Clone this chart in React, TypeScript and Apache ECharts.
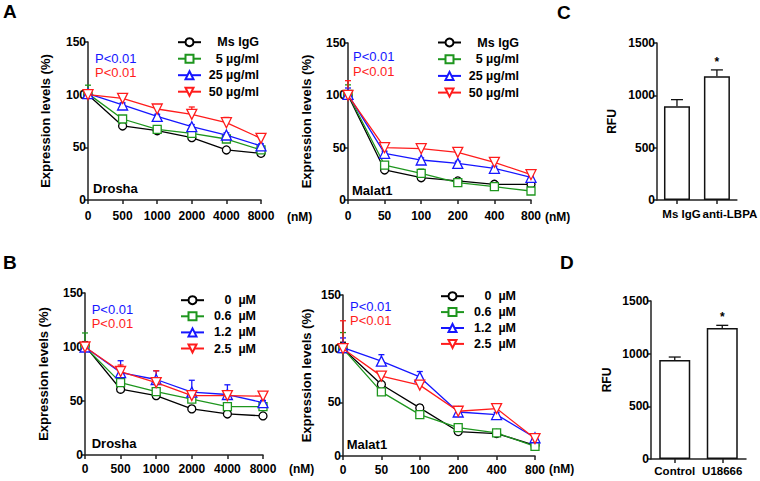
import React, { useEffect, useRef } from 'react';
import * as echarts from 'echarts';

const FONT = '"Liberation Sans", Arial, Helvetica, sans-serif';

// ---------- data ----------
const droshaDoses = ['0', '500', '1000', '2000', '4000', '8000'];
const malat1Doses = ['0', '50', '100', '200', '400', '800'];
const antibodyGroups = ['Ms IgG', '5 µg/ml', '25 µg/ml', '50 µg/ml'];
const inhibitorGroups = ['0\u00a0\u00a0µM', '0.6\u00a0\u00a0µM', '1.2\u00a0\u00a0µM', '2.5\u00a0\u00a0µM'];

// Panel A, Drosha (rows follow antibodyGroups)
const aDroshaMean = [
  [100, 70.3, 65.8, 59.2, 47.5, 44.3],
  [101, 76.9, 67.1, 63.3, 57.9, 47.5],
  [101, 90.2, 79.4, 69.6, 61.7, 51.3],
  [100, 96.5, 86.4, 81.3, 73.4, 58.5],
];
const aDroshaErr = [
  [3, 2, 4, 2, 2, 2],
  [8, 2, 2, 2, 2, 2],
  [3, 2, 2, 2, 2, 2],
  [2, 2, 2, 7, 5, 2],
];
// Panel A, Malat1
const aMalat1Mean = [
  [100, 28.7, 21.3, 18.2, 15, 15],
  [101, 33.4, 25.5, 16.6, 12.7, 8.6],
  [101, 44.6, 38.2, 35, 30.3, 21.7],
  [100, 50, 49, 45.5, 36, 24.2],
];
const aMalat1Err = [
  [3, 1, 2, 1, 1, 1],
  [9, 2, 4, 1, 1, 1],
  [6, 2, 2, 2, 2, 2],
  [14, 2, 2, 2, 2, 2],
];
// Panel B, Drosha (rows follow inhibitorGroups)
const bDroshaMean = [
  [101, 60.9, 55, 42.7, 38, 36.2],
  [100, 67, 58.7, 51.7, 44.8, 44.8],
  [100, 76.3, 69.9, 58.2, 56, 48.5],
  [100, 77.3, 67, 55, 55, 54.5],
];
const bDroshaErr = [
  [4, 2, 4, 2, 2, 2],
  [13, 3, 3, 3, 3, 2],
  [3, 11, 8, 11, 9, 2],
  [2, 6, 11, 3, 3, 2],
];
// Panel B, Malat1
const bMalat1Mean = [
  [100, 66.6, 44.8, 22.8, 20.9, 10],
  [100, 59.7, 38.6, 26.5, 21.5, 9],
  [101, 88.4, 73.7, 41, 38.6, 17],
  [100, 74.4, 66, 41.7, 44.2, 16.2],
];
const bMalat1Err = [
  [6, 2, 3, 1, 1, 1],
  [15, 2, 2, 1, 1, 1],
  [9, 6, 5, 2, 2, 2],
  [26, 2, 2, 3, 2, 2],
];
// Panel C
const cGroups = ['Ms IgG', 'anti-LBPA'];
const cMean = [895, 1182];
const cErr = [64, 61];
const cMarks = ['', '*'];
// Panel D
const dGroups = ['Control', 'U18666'];
const dMean = [940, 1244];
const dErr = [28, 25];
const dMarks = ['', '*'];

// ---------- styles ----------
const groupColors = ['#000000', '#1e961e', '#1616ff', '#ff1c1c'];
const groupSymbols = ['circle', 'rect', 'triangle', 'triangle'];
const groupRotate = [0, 0, 0, 180];
const AX = '#222222';

const grids = [
  { left: 88, top: 42, width: 173, height: 158 }, // A Drosha
  { left: 348, top: 43, width: 183, height: 157 }, // A Malat1
  { left: 657, top: 43, width: 81, height: 157 }, // C
  { left: 85, top: 293, width: 178, height: 162 }, // B Drosha
  { left: 343, top: 295, width: 192, height: 161 }, // B Malat1
  { left: 651, top: 301, width: 95, height: 158 }, // D
];

function errorSeries(gi: number, data: any[][], color: string, cap: number, z: number) {
  return {
    type: 'custom',
    xAxisIndex: gi,
    yAxisIndex: gi,
    z,
    silent: true,
    data,
    renderItem: (params: any, api: any) => {
      const x = api.value(0);
      const y = api.value(1);
      const e = api.value(2);
      const p0 = api.coord([x, y]);
      const p1 = api.coord([x, y + e]);
      const children: any[] = [];
      if (e > 0) {
        children.push({ type: 'line', shape: { x1: p0[0], y1: p0[1], x2: p1[0], y2: p1[1] }, style: { stroke: color, lineWidth: 1.3 } });
        children.push({ type: 'line', shape: { x1: p1[0] - cap, y1: p1[1], x2: p1[0] + cap, y2: p1[1] }, style: { stroke: color, lineWidth: 1.3 } });
      }
      const mark = data[params.dataIndex][3];
      if (mark) {
        children.push({ type: 'text', x: p1[0], y: p1[1] - 8, style: { text: String(mark), fill: '#000', font: `bold 12px ${FONT}`, align: 'center', verticalAlign: 'middle' } });
      }
      return { type: 'group', children };
    },
  };
}

function linePanel(gi: number, names: string[], means: number[][], errs: number[][]) {
  const out: any[] = [];
  means.forEach((row, k) => {
    out.push(errorSeries(gi, row.map((v, i) => [i, v, errs[k][i]]), groupColors[k], 3, 2));
  });
  means.forEach((row, k) => {
    out.push({
      type: 'line',
      name: names[k],
      xAxisIndex: gi,
      yAxisIndex: gi,
      data: row,
      z: 3 + k,
      symbol: groupSymbols[k],
      symbolRotate: groupRotate[k],
      symbolSize: k >= 2 ? 10 : 8,
      showAllSymbol: true,
      lineStyle: { color: groupColors[k], width: 1.3 },
      itemStyle: { color: '#ffffff', borderColor: groupColors[k], borderWidth: 1.3 },
    });
  });
  return out;
}

function barPanel(gi: number, means: number[], errs: number[], marks: string[], barWidth: number) {
  return [
    {
      type: 'bar',
      xAxisIndex: gi,
      yAxisIndex: gi,
      data: means,
      barWidth,
      z: 2,
      itemStyle: { color: '#ffffff', borderColor: '#111', borderWidth: 1.5 },
    },
    errorSeries(gi, means.map((v, i) => [i, v, errs[i], marks[i]]), '#111', 6, 3),
  ];
}

const labelStyle = { fontFamily: FONT, fontWeight: 'bold' as const, fontSize: 12, color: '#000' };

function catAxis(gi: number, data: any[], boundaryGap: boolean, margin: number, fontSize = 12) {
  return {
    gridIndex: gi,
    type: 'category',
    data,
    boundaryGap,
    axisLine: { lineStyle: { color: AX, width: 1.5 } },
    axisTick: { show: true, alignWithLabel: true, length: 4, lineStyle: { color: AX, width: 1.5 } },
    axisLabel: { ...labelStyle, fontSize, margin, interval: 0 },
    splitLine: { show: false },
  };
}

function valAxis(gi: number, max: number, interval: number, name: string, nameGap: number, nameSize = 13) {
  return {
    gridIndex: gi,
    type: 'value',
    min: 0,
    max,
    interval,
    axisLine: { show: true, lineStyle: { color: AX, width: 1.5 } },
    axisTick: { show: true, length: 4, lineStyle: { color: AX, width: 1.5 } },
    axisLabel: { ...labelStyle, margin: 2, formatter: (v: number) => String(v) },
    splitLine: { show: false },
    name,
    nameLocation: 'middle',
    nameGap,
    nameTextStyle: { fontFamily: FONT, fontWeight: 'bold', fontSize: nameSize, color: '#000' },
  };
}

function legend(left: number, top: number, gap: number, names: string[], textW: number) {
  return {
    left,
    top,
    orient: 'vertical',
    padding: 0,
    itemWidth: 23,
    itemHeight: 10,
    itemGap: gap,
    selectedMode: false,
    data: names,
    formatter: (n: string) => `{t|${n}}`,
    textStyle: {
      rich: {
        t: { width: textW, align: 'right', fontFamily: FONT, fontWeight: 'bold', fontSize: 12.5, lineHeight: 14, color: '#000' },
      },
    },
  };
}

function txt(text: string, x: number, y: number, fill: string, font: string, align = 'left') {
  return { type: 'text', x, y, silent: true, style: { text, fill, font, align, verticalAlign: 'middle' } };
}

export default function App() {
  const ref = useRef<HTMLDivElement>(null);
  useEffect(() => {
    if (!ref.current) return;
    const chart = echarts.init(ref.current, undefined, { renderer: 'svg' });
    const bold13 = `bold 13px ${FONT}`;
    const p13 = `13px ${FONT}`;
    const letter = `bold 19px ${FONT}`;
    const blue = '#1616ff';
    const red = '#ff1c1c';
    const cAxisData = [
      { value: cGroups[0], textStyle: { padding: [0, 0, 0, 9] } },
      { value: cGroups[1], textStyle: { padding: [0, 0, 0, 26] } },
    ];
    chart.setOption({
      animation: false,
      backgroundColor: '#ffffff',
      grid: grids.map((g) => ({ ...g, containLabel: false })),
      xAxis: [
        catAxis(0, droshaDoses, false, 10),
        catAxis(1, malat1Doses, false, 10),
        catAxis(2, cAxisData, true, 8, 11.5),
        catAxis(3, droshaDoses, false, 8),
        catAxis(4, malat1Doses, false, 8),
        catAxis(5, dGroups, true, 6, 11.5),
      ],
      yAxis: [
        valAxis(0, 150, 50, 'Expression levels (%)', 36),
        valAxis(1, 150, 50, 'Expression levels (%)', 35),
        valAxis(2, 1500, 500, 'RFU', 39, 12),
        valAxis(3, 150, 50, 'Expression levels (%)', 35),
        valAxis(4, 150, 50, 'Expression levels (%)', 30),
        valAxis(5, 1500, 500, 'RFU', 38, 12),
      ],
      legend: [
        legend(177, 35.7, 3.5, antibodyGroups, 53),
        legend(437, 36, 3.7, antibodyGroups, 53),
        legend(180, 293.7, 3.1, inhibitorGroups, 47),
        legend(440, 289.7, 2.9, inhibitorGroups, 47),
      ],
      series: [
        ...linePanel(0, antibodyGroups, aDroshaMean, aDroshaErr),
        ...linePanel(1, antibodyGroups, aMalat1Mean, aMalat1Err),
        ...barPanel(2, cMean, cErr, cMarks, 26),
        ...linePanel(3, inhibitorGroups, bDroshaMean, bDroshaErr),
        ...linePanel(4, inhibitorGroups, bMalat1Mean, bMalat1Err),
        ...barPanel(5, dMean, dErr, dMarks, 31),
      ],
      graphic: [
        txt('A', 3, 11, '#000', letter),
        txt('B', 3, 262, '#000', letter),
        txt('C', 557, 12, '#000', letter),
        txt('D', 560, 262, '#000', letter),
        txt('P<0.01', 95, 58, blue, p13),
        txt('P<0.01', 95, 72.7, red, p13),
        txt('P<0.01', 353, 56.7, blue, p13),
        txt('P<0.01', 353, 71, red, p13),
        txt('P<0.01', 91.7, 309, blue, p13),
        txt('P<0.01', 91.7, 323.5, red, p13),
        txt('P<0.01', 350, 306, blue, p13),
        txt('P<0.01', 350, 320.7, red, p13),
        txt('Drosha', 93, 188, '#000', bold13),
        txt('Malat1', 352, 190.5, '#000', bold13),
        txt('Drosha', 91.7, 443, '#000', bold13),
        txt('Malat1', 346.7, 444, '#000', bold13),
        txt('(nM)', 287, 217, '#000', `bold 12px ${FONT}`),
        txt('(nM)', 545, 217, '#000', `bold 12px ${FONT}`),
        txt('(nM)', 289, 469, '#000', `bold 12px ${FONT}`),
        txt('(nM)', 549, 469, '#000', `bold 12px ${FONT}`),
      ],
    });
    return () => chart.dispose();
  }, []);
  return <div ref={ref} style={{ position: 'fixed', left: 0, top: 0, width: 760, height: 481, background: '#fff' }} />;
}
